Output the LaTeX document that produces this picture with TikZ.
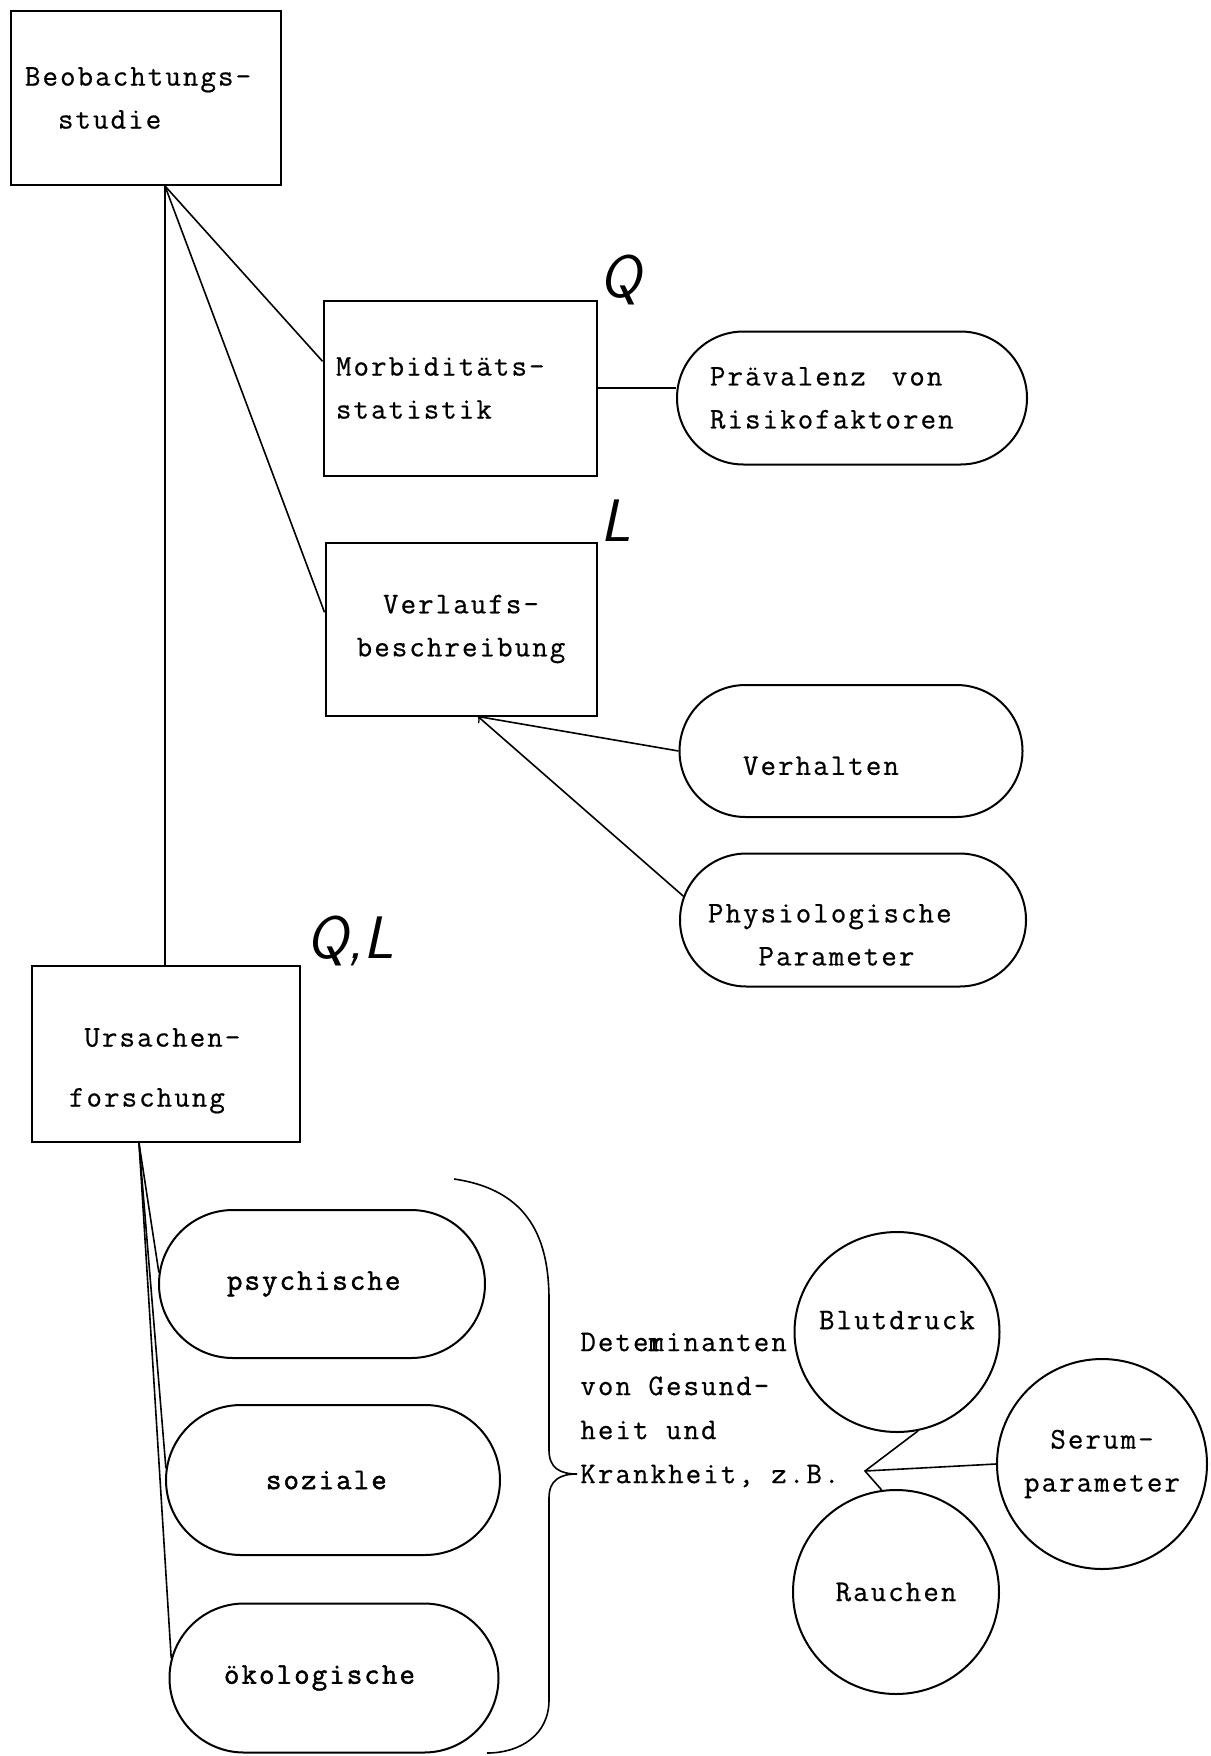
\documentclass[tikz,border=0pt]{standalone}
\usepackage{fontspec}
\setmonofont{Latin Modern Mono}[LetterSpace=7, FakeBold=0.6]
\newfontfamily\heavytt{Latin Modern Mono}[LetterSpace=7, FakeBold=1.6]
\usetikzlibrary{shapes.misc,shapes.geometric,calc}

\newcommand{\typed}{\ttfamily\fontsize{15}{21.5}\selectfont}
\newcommand{\typedheavy}{\heavytt\fontsize{15}{21.5}\selectfont}
\newcommand{\handw}{\sffamily\slshape\fontsize{30}{30}\selectfont}

\tikzset{
  box/.style={draw, line width=1pt, rectangle, inner sep=0pt, font=\typed, align=left},
  pill/.style={draw, line width=1pt, rounded rectangle, inner sep=0pt, font=\typed, align=center},
  blob/.style={draw, line width=1pt, ellipse, inner sep=-10pt, font=\typed, align=center},
  link/.style={line width=0.8pt},
  hand/.style={font=\handw, inner sep=0pt}
}

\begin{document}
\begin{tikzpicture}[x=0.5pt,y=-0.5pt]
    \useasboundingbox (0,0) rectangle (1210,1756);

    % Boxes
    \node[box, minimum width=135pt, minimum height=87pt, text width=121pt] (beob) at (146,98) {Beobachtungs-\\\phantom{xx}studie};
    \node[box, minimum width=136.5pt, minimum height=87.5pt, text width=124pt] (morb) at (460,388) {Morbiditäts-\\statistik};
    \node[box, minimum width=135.5pt, minimum height=86.5pt, align=center] (verl) at (461,629) {Verlaufs-\\beschreibung};
    \node[box, minimum width=134pt, minimum height=88pt, text width=97pt, text height=26pt,
          font=\ttfamily\fontsize{15}{30}\selectfont] (ursa) at (166,1054) {\phantom{x}Ursachen-\\forschung};

    % Rounded boxes
    \node[pill, minimum width=175pt, minimum height=66.5pt, text width=142pt, align=left] (praev) at (852,398) {Prävalenz\hspace{13pt}von\\Risikofaktoren};
    \node[pill, minimum width=171.5pt, minimum height=66pt, text width=108pt, align=left, text height=24pt] (verh) at (851,751) {Verhalten};
    \node[pill, minimum width=173pt, minimum height=66.5pt, text width=145pt, align=left, text height=24pt] (phys) at (853,920) {Physiologische\\\phantom{xxx}Parameter};
    \node[pill, font=\typedheavy, minimum width=163pt, minimum height=74pt, text width=95pt, align=left] (psych) at (322,1284) {psychische};
    \node[pill, font=\typedheavy, minimum width=167pt, minimum height=75pt, text width=67pt, align=left] (soz) at (333,1480) {soziale};
    \node[pill, font=\typedheavy, minimum width=164.5pt, minimum height=74.5pt, text width=110pt, align=left] (oeko) at (334,1678) {ökologische};

    % Circles
    \node[blob, minimum width=102.5pt, minimum height=100pt, text depth=12pt] (blut) at (897,1332) {Blutdruck};
    \node[blob, minimum width=105pt, minimum height=105pt] (serum) at (1102,1464) {Serum-\\parameter};
    \node[blob, minimum width=103pt, minimum height=102pt] (rauch) at (896,1592) {Rauchen};

    % Handwritten marks
    \node[hand] (q1) at (620,280) {Q};
    \node[hand] (l1) at (616,521) {L};
    \node[hand] (ql) at (350,941) {Q,L};

    % Connections
    \coordinate (root) at ($(beob.south)+(19,0)$);
    \draw[link] (root) -- (morb.169);
    \draw[link] (root) -- (verl.173);
    \draw[link] (root) -- (root |- ursa.north);
    \draw[link] (morb.east) -- (morb.east -| praev.west);

    \coordinate (vbot) at ($(verl.south)+(17,0)$);
    \draw[link] (vbot) -- (verh.west);
    \draw[link,->] (phys.172) -- (vbot);

    \coordinate (ubot) at ($(ursa.south)+(-27,0)$);
    \foreach \n/\a in {psych/176, soz/176, oeko/173}
        \draw[link] (ubot) -- (\n.\a);

    % Brace and determinants
    \coordinate (tip) at (577,1474);
    \draw[link] (454,1179) .. controls (530,1190) and (549,1240) .. (549,1300) -- (549,1450)
        .. controls (549,1468) and (560,1474) .. (tip);
    \draw[link] (tip) .. controls (560,1474) and (549,1480) .. (549,1498) -- (549,1700)
        .. controls (549,1735) and (520,1753) .. (487,1753);
    \node[font=\ttfamily\fontsize{15}{22}\selectfont, align=left, anchor=west, inner sep=0pt] (det) at (580,1410)
        {Dete\rlap{r}minanten\\von Gesund-\\heit und\\Krankheit, z.B.};

    \coordinate (jct) at (865,1471);
    \draw[link] (blut.-78) -- (jct) -- (rauch.98);
    \draw[link] (jct) -- (serum.west);
\end{tikzpicture}
\end{document}
